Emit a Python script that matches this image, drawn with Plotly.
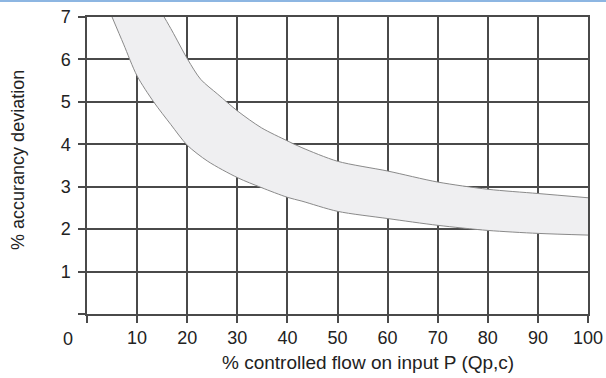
import plotly.graph_objects as go

# upper and lower bound of the accuracy band
upper_x = [15.4, 17.0, 20.1, 22.7, 26.1, 30.1, 34.8, 40, 42.9, 50, 60, 70, 80, 90, 100]
upper_y = [7.0, 6.67, 6.0, 5.53, 5.18, 4.78, 4.39, 4.08, 3.92, 3.6, 3.37, 3.11, 2.94, 2.84, 2.74]
lower_x = [5.0, 7.3, 10, 13.3, 16.7, 20, 24.1, 30.1, 34.8, 40, 42.9, 50, 60, 70, 80, 90, 100]
lower_y = [7.0, 6.36, 5.61, 5.0, 4.47, 3.98, 3.6, 3.21, 2.98, 2.75, 2.66, 2.42, 2.25, 2.09, 1.97, 1.9, 1.86]

x_ticks = [0, 10, 20, 30, 40, 50, 60, 70, 80, 90, 100]
x_ticktext = ["", "10", "20", "30", "40", "50", "60", "70", "80", "90", "100"]
y_ticks = [0, 1, 2, 3, 4, 5, 6, 7]
y_ticktext = ["", "1", "2", "3", "4", "5", "6", "7"]

FONT = "Liberation Sans, Arial, sans-serif"
GRID = "#4a4a4a"
EDGE = dict(color="#8a8a8a", width=1, shape="spline", smoothing=0.8)

fig = go.Figure()
# lower curve first, then the upper one filled down to it
fig.add_trace(go.Scatter(x=lower_x, y=lower_y, mode="lines", line=EDGE,
                         hoverinfo="skip", showlegend=False))
fig.add_trace(go.Scatter(x=upper_x, y=upper_y, mode="lines", line=EDGE,
                         fill="tonexty", fillcolor="#efeff1",
                         hoverinfo="skip", showlegend=False))

axis_common = dict(
    showgrid=True, gridcolor=GRID, gridwidth=1.5,
    showline=True, linecolor=GRID, linewidth=1.5, mirror=True,
    ticks="outside", ticklen=7, tickcolor=GRID, tickwidth=1.5,
    zeroline=False, automargin=False,
    tickfont=dict(family=FONT, size=18, color="#222"),
)
fig.update_xaxes(range=[0, 100], tickvals=x_ticks, ticktext=x_ticktext, **axis_common)
fig.update_yaxes(range=[0, 7], tickvals=y_ticks, ticktext=y_ticktext,
                 ticklabelstandoff=4, **axis_common)

fig.update_layout(
    width=606, height=378,
    margin=dict(l=87, r=18, t=17, b=64),
    plot_bgcolor="white", paper_bgcolor="white",
    font=dict(family=FONT, color="#222"),
    annotations=[
        dict(text="0", x=-0.038, y=-0.084, xref="paper", yref="paper",
             showarrow=False, font=dict(size=18), xanchor="center", yanchor="middle"),
        dict(text="% controlled flow on input P (Qp,c)", x=(368 - 87) / 501, y=-0.162,
             xref="paper", yref="paper", showarrow=False, font=dict(size=19),
             xanchor="center", yanchor="middle"),
        dict(text="% accurancy deviation", x=-0.139, y=0.52, xref="paper", yref="paper",
             textangle=-90, showarrow=False, font=dict(size=18),
             xanchor="center", yanchor="middle"),
    ],
    shapes=[dict(type="line", xref="paper", yref="paper", x0=-0.2, x1=1.1,
                 y0=1.054, y1=1.054, line=dict(color="#8db6e2", width=2))],
)

# drop the page's default body margin so the figure sits at the top-left corner
fig.write_html("out.html", config={"displayModeBar": False},
               post_script="document.body.style.margin='0';")
